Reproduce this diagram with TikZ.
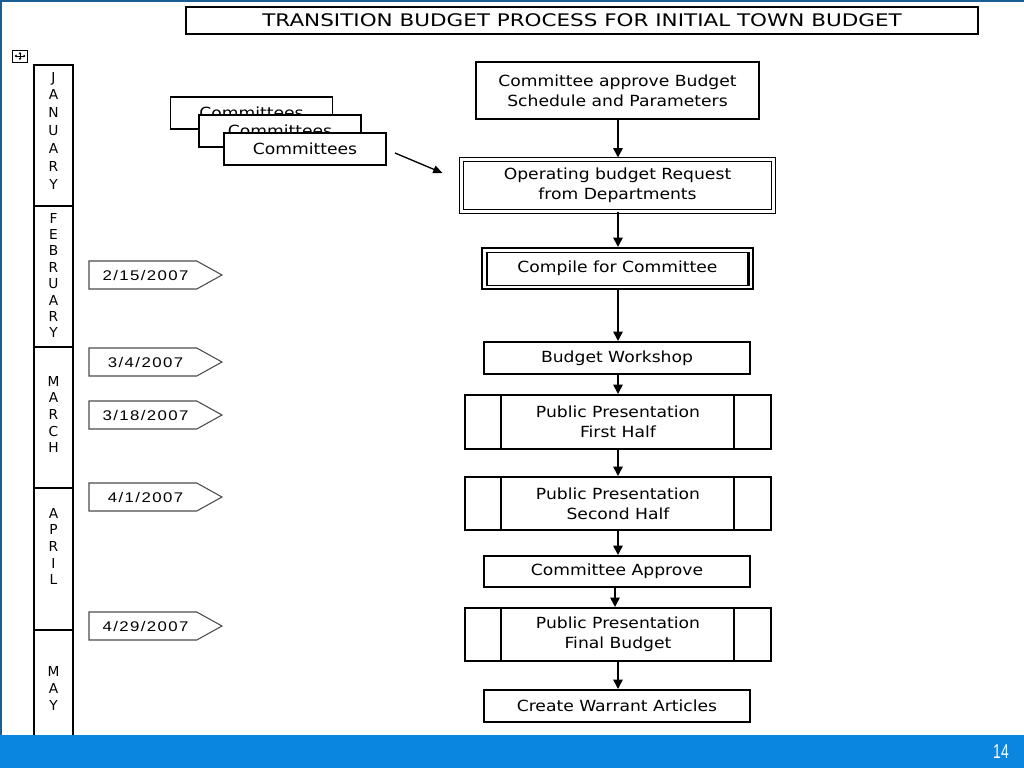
\documentclass[tikz,border=0pt]{standalone}
\usepackage{fontspec}
\setmainfont{DejaVu Sans}
\newfontfamily\flowfont[FakeStretch=1.12]{DejaVu Sans}
\newfontfamily\titlefont[FakeStretch=1.24]{DejaVu Sans}
\newfontfamily\datefont[FakeStretch=1.2,LetterSpace=10]{Liberation Sans}
\newfontfamily\numfont[FakeStretch=0.7]{Liberation Sans}
\usetikzlibrary{arrows.meta,shapes.symbols,calc}
\definecolor{barblue}{HTML}{0A86E0}
\definecolor{edgeblue}{HTML}{1A5E96}
\begin{document}
\begin{tikzpicture}[x=0.75pt,y=-0.75pt,
  every node/.style={inner sep=0pt,outer sep=0pt},
  flowbox/.style={draw,line width=0.9pt,fill=white,align=center,font=\flowfont\fontsize{11.5}{14.8}\selectfont},
  combox/.style={draw,line width=0.9pt,fill=white,minimum width=162*0.75pt,minimum height=32*0.75pt,font=\flowfont\fontsize{11.5}{13}\selectfont},
  datetag/.style={draw=black!70,line width=0.8pt,fill=white,shape=signal,signal to=east,signal pointer angle=58,minimum width=133*0.75pt,minimum height=28*0.75pt,anchor=west,font=\datefont\fontsize{10.5}{12}\selectfont},
  monthbox/.style={draw,line width=0.8pt,minimum width=39*0.75pt},
  monthtxt/.style={anchor=north,align=center,font=\fontsize{10.3}{#1}\selectfont},
  flowarrow/.style={line width=1.2pt,-{Triangle[length=7pt,width=7pt]}}
]
\useasboundingbox (0,0) rectangle (1024,768);
\fill[white] (0,0) rectangle (1024,768);
% frame edges
\draw[edgeblue,line width=1.5pt] (0.5,768) -- (0.5,0.5) -- (1024,0.5);

% title
\node[draw,line width=0.8pt,minimum width=792*0.75pt,minimum height=27*0.75pt,font=\titlefont\fontsize{13}{15}\selectfont] (title) at (582,20.5) {TRANSITION BUDGET PROCESS FOR INITIAL TOWN BUDGET};

% move icon
\node[draw,line width=0.6pt,minimum width=15*0.75pt,minimum height=12*0.75pt] (moveicon) at (20,56) {};
\draw[line width=0.5pt,{Triangle[length=1.5pt,width=2pt]}-{Triangle[length=1.5pt,width=2pt]}] ($(moveicon.west)+(2,0)$) -- ($(moveicon.east)+(-2,0)$);
\draw[line width=0.5pt,{Triangle[length=1.5pt,width=2pt]}-{Triangle[length=1.5pt,width=2pt]}] ($(moveicon.north)+(0,2)$) -- ($(moveicon.south)+(0,-2)$);

% month column
\node[monthbox,minimum height=141*0.75pt] (jan) at (53.5,135.5) {};
\node[monthbox,minimum height=141*0.75pt] (feb) at (53.5,276.5) {};
\node[monthbox,minimum height=141*0.75pt] (mar) at (53.5,417.5) {};
\node[monthbox,minimum height=142*0.75pt] (apr) at (53.5,559) {};
\node[monthbox,minimum height=120*0.75pt] (may) at (53.5,690) {};
\node[monthtxt=13.4] (jant) at (53.5,72) {J\\A\\N\\U\\A\\R\\Y};
\node[monthtxt=12.3] (febt) at (53.5,213) {F\\E\\B\\R\\U\\A\\R\\Y};
\node[monthtxt=12.5] (mart) at (53.5,376) {M\\A\\R\\C\\H};
\node[monthtxt=12.5] (aprt) at (53.5,508) {A\\P\\R\\I\\L};
\node[monthtxt=13] (mayt) at (53.5,666) {M\\A\\Y};
% bottom bar
\fill[barblue] (0,735) rectangle (1024,768);
\node[text=white,font=\numfont\fontsize{15}{16}\selectfont] (pagenum) at (1001,752) {14};

% committees stack
\node[combox] (com1) at (251.5,113) {Committees};
\node[combox] (com2) at (280,131) {Committees};
\node[combox] (com3) at (305,149) {Committees};

% flow boxes
\node[flowbox,minimum width=283*0.75pt,minimum height=57*0.75pt] (b1) at (617.5,90.5) {Committee approve Budget\\Schedule and Parameters};
\node[flowbox,double,double distance=2.2pt,minimum width=312*0.75pt,minimum height=52*0.75pt] (b2) at (617.5,185.5) {Operating budget Request\\from Departments};
\node[flowbox,minimum width=271*0.75pt,minimum height=41*0.75pt] (b3) at (617.5,268.5) {Compile for Committee};
\draw[line width=0.7pt] ($(b3.north west)+(4,4)$) rectangle ($(b3.south east)+(-4,-4)$);
\draw[line width=2pt] ($(b3.north west)+(5,4)$) -- ($(b3.south west)+(5,-4)$);
\draw[line width=2pt] ($(b3.north east)+(-5,4)$) -- ($(b3.south east)+(-5,-4)$);
\node[flowbox,minimum width=266*0.75pt,minimum height=32*0.75pt] (b4) at (617,358) {Budget Workshop};
\node[flowbox,minimum width=306*0.75pt,minimum height=54*0.75pt] (b5) at (618,422) {Public Presentation\\First Half};
\node[flowbox,minimum width=306*0.75pt,minimum height=53*0.75pt] (b6) at (618,503.5) {Public Presentation\\Second Half};
\node[flowbox,minimum width=266*0.75pt,minimum height=31*0.75pt] (b7) at (617,571.5) {Committee Approve};
\node[flowbox,minimum width=306*0.75pt,minimum height=53*0.75pt] (b8) at (618,634.5) {Public Presentation\\Final Budget};
\node[flowbox,minimum width=266*0.75pt,minimum height=32*0.75pt] (b9) at (617,706) {Create Warrant Articles};
\foreach \b in {b5,b6,b8}{
  \draw[line width=0.9pt] ($(\b.north west)+(36,0)$) -- ($(\b.south west)+(36,0)$);
  \draw[line width=0.9pt] ($(\b.north east)+(-37,0)$) -- ($(\b.south east)+(-37,0)$);
}

% arrows
\draw[flowarrow] ($(b1.south)+(0.5,0)$) -- ($(b2.north)+(0.5,-2)$);
\draw[flowarrow] ($(b2.south)+(0.5,0)$) -- ($(b3.north)+(0.5,-1)$);
\draw[flowarrow] ($(b3.south)+(0.5,0)$) -- ($(b4.north)+(1,-1)$);
\draw[flowarrow] ($(b4.south)+(1,0)$) -- ($(b5.north)+(0,-1)$);
\draw[flowarrow] (b5.south) -- ($(b6.north)+(0,-1)$);
\draw[flowarrow] (b6.south) -- ($(b7.north)+(1,-1)$);
\draw[flowarrow] ($(b7.south)+(-2,0)$) -- ($(b8.north)+(-3,-1)$);
\draw[flowarrow] (b8.south) -- ($(b9.north)+(1,-1)$);
\coordinate (comarrowstart) at (395,153);
\draw[line width=1pt,-{Triangle[length=7pt,width=6pt]}] (comarrowstart) -- ($(b2.west)+(-19,-12.5)$);

% date tags
\node[datetag] (d1) at (89,275) {\hspace{4pt}2/15/2007};
\node[datetag] (d2) at (89,362) {\hspace{4pt}3/4/2007};
\node[datetag] (d3) at (89,415) {\hspace{4pt}3/18/2007};
\node[datetag] (d4) at (89,497) {\hspace{4pt}4/1/2007};
\node[datetag] (d5) at (89,626) {\hspace{4pt}4/29/2007};
\end{tikzpicture}
\end{document}
